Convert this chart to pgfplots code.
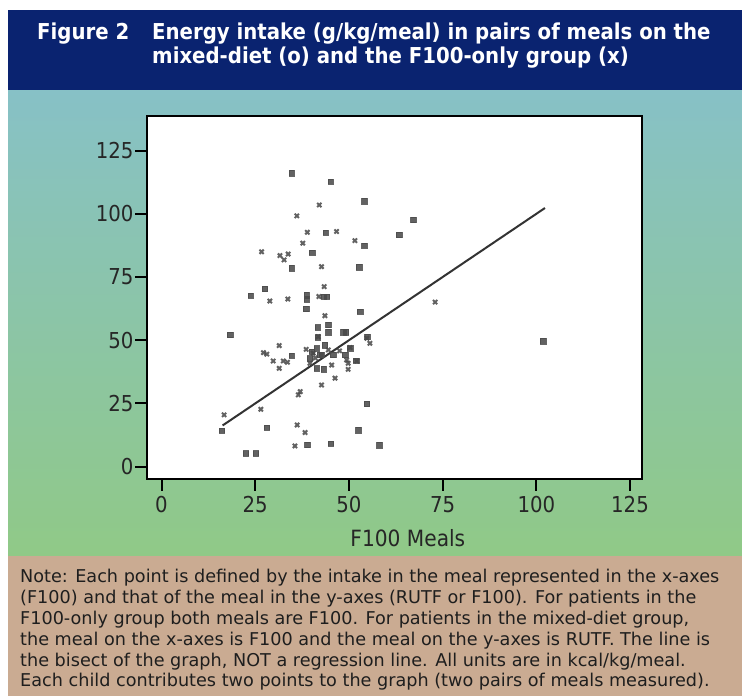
\documentclass[border=0pt]{standalone}
\usepackage{pgfplots}
\pgfplotsset{compat=1.18}
\usepackage{fontspec}
\setmainfont{DejaVu Sans Condensed}
\newfontfamily\notefont{DejaVu Sans}
\definecolor{navy}{RGB}{10,35,112}
\definecolor{tealtop}{RGB}{135,193,198}
\definecolor{greenbot}{RGB}{144,201,135}
\definecolor{tanbox}{RGB}{202,171,146}
\definecolor{notetext}{RGB}{30,30,30}
\begin{document}
\begin{tikzpicture}
\begin{scope}[x=1bp,y=1bp]
\fill[white] (0,0) rectangle (742,696);
\fill[navy] (8,605) rectangle (742,686);
\shade[top color=tealtop, bottom color=greenbot] (8,140) rectangle (742,605);
\fill[tanbox] (8,0) rectangle (742,140);
\begin{scope}[every node/.style={anchor=base west, text=white, inner sep=0pt, font=\bfseries\fontsize{22}{26}\selectfont}]
\node at (37,656.5) {Figure 2};
\node at (152,656.5) {Energy intake (g/kg/meal) in pairs of meals on the};
\node at (152,632) {mixed-diet (o) and the F100-only group (x)};
\end{scope}
\begin{scope}[every node/.style={anchor=base west, text=notetext, inner sep=0pt, font=\notefont\fontsize{17.7}{20}\selectfont}]
\node at (20,113) {Note: Each point is defined by the intake in the meal represented in the x-axes};
\node at (20,92.2) {(F100) and that of the meal in the y-axes (RUTF or F100). For patients in the};
\node at (20,71.4) {F100-only group both meals are F100. For patients in the mixed-diet group,};
\node at (20,50.6) {the meal on the x-axes is F100 and the meal on the y-axes is RUTF. The line is};
\node at (20,29.8) {the bisect of the graph, NOT a regression line. All units are in kcal/kg/meal.};
\node at (20,9) {Each child contributes two points to the graph (two pairs of meals measured).};
\end{scope}
\end{scope}
\begin{axis}[
  at={(147bp,217bp)}, anchor=south west,
  scale only axis, width=495bp, height=363bp,
  xmin=-3.87, xmax=128.2, ymin=-4.87, ymax=138.7,
  axis background/.style={fill=white},
  axis line style={line width=2bp, black},
  tick align=outside, xtick pos=bottom, ytick pos=left,
  major tick length=12bp,
  every tick/.style={black, line width=2bp},
  xtick={0,25,50,75,100,125}, ytick={0,25,50,75,100,125},
  tick label style={font=\fontsize{22}{26}\selectfont, text=black!85},
  yticklabel style={xshift=2bp},
  xticklabel style={yshift=-2bp},
  /pgf/number format/assume math mode=true,
  xlabel={F100 Meals},
  xlabel style={at={(axis description cs:0.527,0)}, anchor=center, yshift=-59bp, font=\fontsize{22.5}{26}\selectfont, text=black!85},
]
\addplot[black!80, line width=2bp] coordinates {(16.3,16.3) (102.3,102.3)};
\addplot[only marks, mark=square*, mark size=2.7bp, draw=black!70, fill=black!72, opacity=0.85] table {
x y
34.7 116.1
45.1 112.7
54.1 105.0
67.2 97.6
43.8 92.6
63.4 91.7
54.1 87.4
40.2 84.7
34.7 78.5
52.7 78.9
27.6 70.3
23.8 67.7
38.7 67.9
38.7 66.3
38.6 62.4
43.2 67.3
44.1 67.3
41.6 55.1
41.6 51.2
18.3 52.1
34.7 43.9
44.5 56.1
44.5 53.2
48.5 53.2
49.2 53.2
53.0 61.3
54.9 51.4
43.6 48.1
42.7 44.2
45.8 44.2
49.0 44.2
41.4 38.9
43.2 38.6
50.3 46.8
51.9 41.9
16.1 14.2
28.1 15.4
38.9 8.6
45.2 9.2
52.5 14.5
58.1 8.5
22.5 5.3
25.2 5.3
54.8 24.8
101.8 49.7
40.0 45.5
42.3 44.2
39.6 42.9
41.4 46.8
};
\addplot[only marks, mark=x, mark size=3bp, line width=2bp, draw=black!72, opacity=0.85] table {
x y
42.1 103.5
36.1 99.2
46.7 93.0
38.9 92.7
51.6 89.4
37.7 88.4
26.7 85.0
31.6 83.5
33.8 84.1
32.7 81.8
42.7 79.1
28.9 65.5
33.7 66.3
42.0 67.3
43.4 71.2
43.6 59.7
31.4 47.9
27.2 45.1
28.1 44.5
29.8 41.8
32.5 41.8
33.6 41.3
31.4 38.9
38.6 46.4
41.8 51.4
55.6 48.8
54.8 50.8
50.3 47.1
40.5 44.9
49.4 42.2
52.1 41.8
45.4 40.2
49.8 40.9
49.8 38.5
39.6 40.9
46.3 35.0
42.7 32.3
37.0 29.7
36.5 28.4
16.7 20.5
26.5 22.7
36.2 16.5
38.3 13.5
35.6 8.2
73.0 65.1
44.5 46.2
47.5 45.8
41.0 43.0
};
\end{axis}
\end{tikzpicture}
\end{document}
